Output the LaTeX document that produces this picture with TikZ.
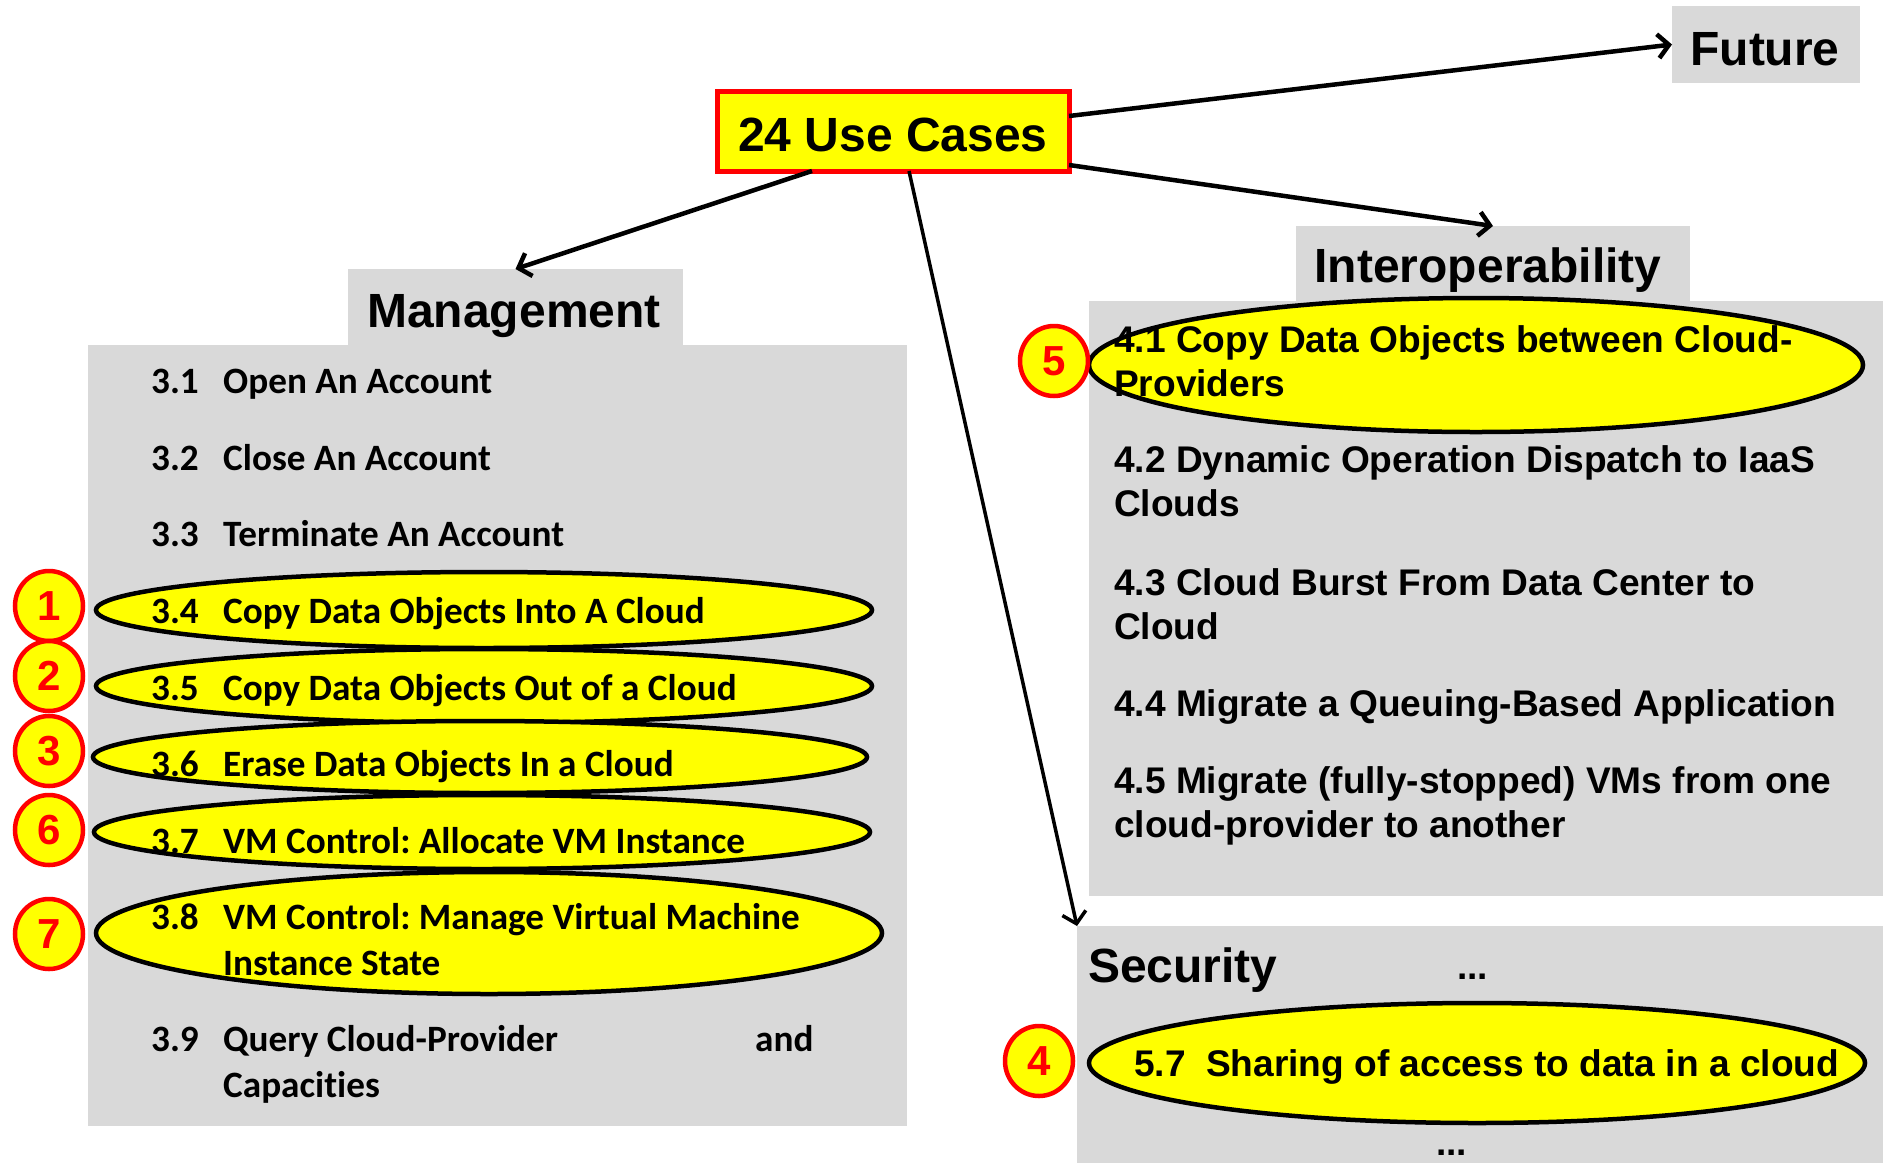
\documentclass[tikz,border=0pt]{standalone}
\usepackage{fontspec}
\setmainfont{Liberation Sans}
\newfontfamily\arialfont{Liberation Sans}
\newfontfamily\calfont{Carlito}[Ligatures=NoCommon]
\usetikzlibrary{shapes.geometric,arrows.meta}
\definecolor{boxgray}{HTML}{D9D9D9}
\definecolor{hlyellow}{HTML}{FFFF00}
\definecolor{hlred}{HTML}{FF0000}
\frenchspacing
\begin{document}
\begin{tikzpicture}[x=1pt,y=-1pt,
  graybox/.style={fill=boxgray, inner sep=0pt, outer sep=0pt},
  titletext/.style={font=\arialfont\bfseries\fontsize{48}{56}\selectfont, inner sep=0pt, anchor=base},
  ritem/.style={font=\arialfont\bfseries\fontsize{37.1}{44}\selectfont, inner sep=0pt, anchor=base west, align=left},
  litem/.style={font=\calfont\bfseries\fontsize{37.2}{46}\selectfont, inner sep=0pt, anchor=base west, align=left},
  hl/.style={ellipse, fill=hlyellow, draw=black, line width=4.5pt, inner sep=0pt, outer sep=0pt},
  badge/.style={ellipse, fill=hlyellow, draw=hlred, line width=4.5pt, minimum width=68pt, minimum height=70pt, inner sep=0pt,
    font=\arialfont\bfseries\fontsize{42}{42}\selectfont, text=hlred},
  link/.style={line width=4.5pt, -{Straight Barb[length=11pt,width=24pt,line width=4.5pt]}},
]
\useasboundingbox (0,0) rectangle (1883,1163);

% grey panels
\node[graybox, minimum width=188pt, minimum height=77pt] (future) at (1766,44.5) {};
\node[graybox, minimum width=335pt, minimum height=76pt] (mgmt) at (515.5,307) {};
\node[graybox, minimum width=819pt, minimum height=781pt] (mgmtbody) at (497.5,735.5) {};
\node[graybox, minimum width=394pt, minimum height=75pt] (interop) at (1493,263.5) {};
\node[graybox, minimum width=794pt, minimum height=595pt] (interopbody) at (1486,598.5) {};
\node[graybox, minimum width=806pt, minimum height=237pt] (security) at (1480,1044.5) {};

% root box
\node[fill=hlyellow, draw=hlred, line width=5pt, minimum width=352pt, minimum height=80pt, inner sep=0pt, outer sep=0pt] (uc) at (893,131) {};

% highlighted use cases
\node[hl, minimum width=776pt, minimum height=76pt] (e1) at (484,610) {};
\node[hl, minimum width=776pt, minimum height=74pt] (e2) at (484,686) {};
\node[hl, minimum width=774pt, minimum height=72pt] (e3) at (480,757) {};
\node[hl, minimum width=776pt, minimum height=74pt] (e4) at (482,832) {};
\node[hl, minimum width=786pt, minimum height=122pt] (e5) at (489,933) {};
\node[hl, minimum width=774pt, minimum height=134pt] (e6) at (1476,365) {};
\node[hl, minimum width=776pt, minimum height=120pt] (e7) at (1477,1063) {};

% numbered badges
\node[badge] (b1) at (49,606) {1};
\node[badge] (b2) at (49,676) {2};
\node[badge] (b3) at (49,751) {3};
\node[badge] (b6) at (49,830) {6};
\node[badge] (b7) at (49,934) {7};
\node[badge] (b5) at (1054,361) {5};
\node[badge] (b4) at (1039,1061) {4};

% connectors
\draw[link] ([yshift=15pt]uc.east) -- (future.west);
\draw[link] ([yshift=6pt]uc.south east) -- (interop.north);
\draw[link] ([xshift=-81pt]uc.south) -- (mgmt.north);
\draw[line width=3.5pt, -{Straight Barb[length=11pt,width=24pt,line width=3.5pt]}] ([xshift=16pt]uc.south) -- (security.north west);

% titles
\node[titletext] (tuc) at (893,151) {24 Use Cases};
\node[titletext] (tfuture) at (1765,65) {Future};
\node[titletext] (tmgmt) at (514,327) {Management};
\node[titletext] (tinterop) at (1488,282) {Interoperability};
\node[titletext, anchor=base west] (tsec) at (1088,982) {Security};
\node[ritem] (sdots1) at (1457,979) {...};
\node[ritem] (sdots2) at (1436,1155) {...};

% management items (multi-line items are placed by their last baseline)
\node[litem] (m1) at (151,393) {\makebox[72pt][l]{3.1}Open An Account};
\node[litem] (m2) at (151,470) {\makebox[72pt][l]{3.2}Close An Account};
\node[litem] (m3) at (151,546) {\makebox[72pt][l]{3.3}Terminate An Account};
\node[litem] (m4) at (151,623) {\makebox[72pt][l]{3.4}Copy Data Objects Into A Cloud};
\node[litem] (m5) at (151,700) {\makebox[72pt][l]{3.5}Copy Data Objects Out of a Cloud};
\node[litem] (m6) at (151,776) {\makebox[72pt][l]{3.6}Erase Data Objects In a Cloud};
\node[litem] (m7) at (151,853) {\makebox[72pt][l]{3.7}VM Control: Allocate VM Instance};
\node[litem] (m8) at (151,975) {\makebox[72pt][l]{3.8}VM Control: Manage Virtual Machine\\\hspace*{72pt}Instance State};
\node[litem] (m9) at (151,1097) {\makebox[72pt][l]{3.9}Query Cloud-Provider\\\hspace*{72pt}Capacities};
\node[litem] (m9b) at (755,1051) {and};

% interoperability items
\node[ritem] (i1) at (1114,396) {4.1 Copy Data Objects between Cloud-\\Providers};
\node[ritem] (i2) at (1114,516) {4.2 Dynamic Operation Dispatch to IaaS\\Clouds};
\node[ritem] (i3) at (1114,639) {4.3 Cloud Burst From Data Center to\\Cloud};
\node[ritem] (i4) at (1114,716) {4.4 Migrate a Queuing-Based Application};
\node[ritem] (i5) at (1114,837) {4.5 Migrate (fully-stopped) VMs from one\\cloud-provider to another};

% security item
\node[ritem] (s1) at (1134,1076) {5.7\hspace{0.55em}Sharing of access to data in a cloud};
\end{tikzpicture}
\end{document}
